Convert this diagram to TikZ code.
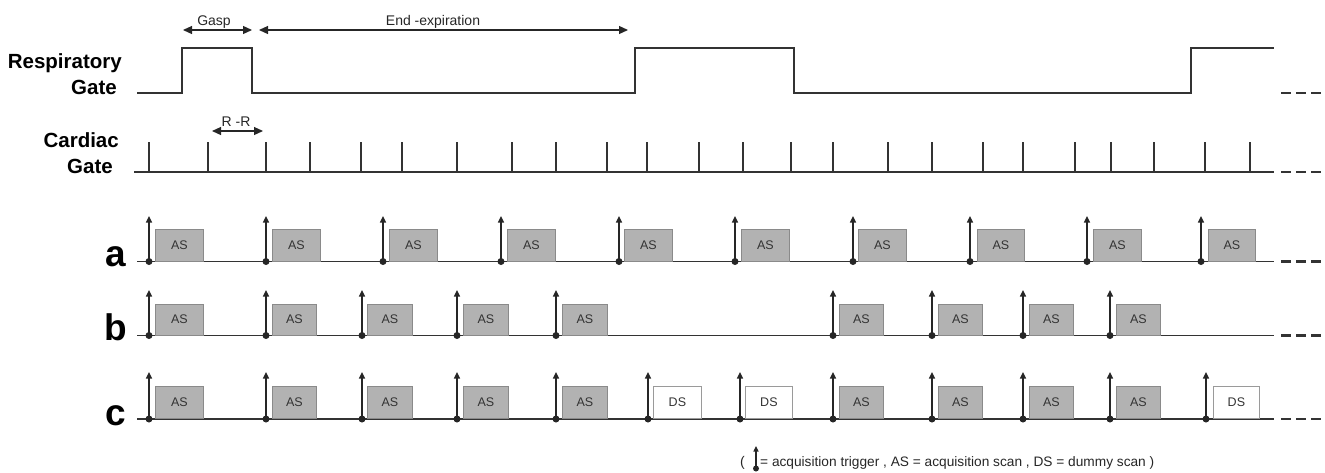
\documentclass[tikz,border=0pt]{standalone}
\usepackage{fontspec}
\setmainfont{Liberation Sans}
\usetikzlibrary{arrows.meta}
\definecolor{linec}{HTML}{333333}
\definecolor{boxfill}{HTML}{B2B2B2}
\definecolor{boxedge}{HTML}{8A8A8A}
\definecolor{dsedge}{HTML}{9A9A9A}
\begin{document}
\begin{tikzpicture}[x=1pt,y=-1pt,
  sigline/.style={draw=linec,line width=1.7pt},
  baseln/.style={draw=linec,line width=1.5pt},
  tickln/.style={draw=linec,line width=1.7pt},
  contdash/.style={draw=linec,line width=2.2pt,dash pattern=on 10pt off 5pt},
  trig/.style={draw=black!85,line width=1.4pt,-{Triangle[length=6.5pt,width=6pt]}},
  trigdot/.style={circle,fill=black!85,inner sep=0pt,minimum size=7pt},
  asbox/.style={draw=boxedge,fill=boxfill,line width=0.8pt,inner sep=0pt,font=\fontsize{12.5}{14}\selectfont,text=black!80},
  dsbox/.style={draw=dsedge,fill=white,line width=0.8pt,inner sep=0pt,font=\fontsize{12.5}{14}\selectfont,text=black!80},
  lbl/.style={font=\bfseries\fontsize{20.5}{24}\selectfont,inner sep=0pt,anchor=base east},
  rowlbl/.style={font=\bfseries\fontsize{37}{40}\selectfont,inner sep=0pt,anchor=base east},
  smalltxt/.style={font=\fontsize{14}{16}\selectfont,inner sep=0pt,text=black!85},
  dimarrow/.style={draw=black!85,line width=1.2pt,{Triangle[length=9pt,width=8pt]}-{Triangle[length=9pt,width=8pt]}}
]
\useasboundingbox (0,0) rectangle (1325,472);

% ---- labels ----
\node[lbl] (resp1) at (122,68) {Respiratory};
\node[lbl] (resp2) at (117,94) {Gate};
\node[lbl] (card1) at (119,147) {Cardiac};
\node[lbl] (card2) at (113,173) {Gate};
\node[rowlbl] (la) at (126,266) {a};
\node[rowlbl] (lb) at (127,340) {b};
\node[rowlbl] (lc) at (126,425) {c};

% ---- respiratory gate ----
\draw[sigline] (137,93) -- (182,93) -- (182,48) -- (252,48) -- (252,93) -- (635,93) -- (635,48) -- (794,48) -- (794,93) -- (1191,93) -- (1191,48) -- (1274,48);
\draw[contdash] (1281,93) -- (1321,93);

% Gasp / End-expiration
\coordinate (g1) at (183,30);
\coordinate (g2) at (252,30);
\draw[dimarrow] (g1) -- (g2);
\node[smalltxt,anchor=base] (gasp) at (214,25) {Gasp};
\coordinate (e1) at (259,30);
\coordinate (e2) at (628,30);
\draw[dimarrow] (e1) -- (e2);
\node[smalltxt,anchor=base] (endexp) at (433,25) {End -expiration};

% ---- cardiac gate ----
\draw[baseln,line width=1.7pt] (134,172) -- (1274,172);
\foreach \t in {149,208,266,310,361,402,457,512,556,607,647,699,743,791,833,888,932,983,1023,1075,1111,1154,1205,1250}{
  \draw[tickln] (\t,172) -- (\t,142);
}
\draw[contdash] (1281,172) -- (1321,172);
\coordinate (r1) at (212,131);
\coordinate (r2) at (263,131);
\draw[dimarrow] (r1) -- (r2);
\node[smalltxt,anchor=base] (rr) at (236,126) {R -R};

% ---- row a ----
\draw[baseln] (137,261.5) -- (1274,261.5);
\draw[contdash] (1281,261.5) -- (1321,261.5);
\foreach \t/\l/\r [count=\i] in {149/155/203,266/272/320,383/389/437,501/507/555,619/624/672,735/741/789,853/858/906,970/977/1024,1087/1093/1141,1201/1208/1255}{
  \node[asbox,minimum width={\r-\l},minimum height=32,anchor=south west] (a\i) at (\l,261.5) {AS};
  \node[trigdot] (ad\i) at (\t,261.5) {};
  \coordinate (at\i) at (\t,216);
  \draw[trig] (ad\i.center) -- (at\i);
}

% ---- row b ----
\draw[baseln] (137,335.5) -- (1274,335.5);
\draw[contdash] (1281,335.5) -- (1321,335.5);
\foreach \t/\l/\r [count=\i] in {149/155/203,266/272/316,362/367/412,457/463/508,556/562/607,833/839/883,932/938/982,1023/1029/1073,1110/1116/1160}{
  \node[asbox,minimum width={\r-\l},minimum height=31,anchor=south west] (b\i) at (\l,335.5) {AS};
  \node[trigdot] (bd\i) at (\t,335.5) {};
  \coordinate (bt\i) at (\t,290);
  \draw[trig] (bd\i.center) -- (bt\i);
}

% ---- row c ----
\draw[baseln] (137,419) -- (1274,419);
\draw[contdash] (1281,419) -- (1321,419);
\foreach \t/\l/\r/\s/\k [count=\i] in {149/155/203/asbox/AS,266/272/316/asbox/AS,362/367/412/asbox/AS,457/463/508/asbox/AS,556/562/607/asbox/AS,648/653/701/dsbox/DS,740/745/792/dsbox/DS,833/839/883/asbox/AS,932/938/982/asbox/AS,1023/1029/1073/asbox/AS,1110/1116/1160/asbox/AS,1206/1213/1259/dsbox/DS}{
  \node[\s,minimum width={\r-\l},minimum height=32,anchor=south west] (c\i) at (\l,419) {\k};
  \node[trigdot] (cd\i) at (\t,419) {};
  \coordinate (ct\i) at (\t,372);
  \draw[trig] (cd\i.center) -- (ct\i);
}

% ---- legend ----
\node[smalltxt,anchor=base west] (lparen) at (740,466) {(};
\node[trigdot,minimum size=6pt] (legdot) at (756,468.5) {};
\coordinate (legtip) at (756,446);
\draw[trig,line width=1.2pt,-{Triangle[length=5.5pt,width=5pt]}] (legdot.center) -- (legtip);
\node[smalltxt,anchor=base west,font=\fontsize{13.7}{16}\selectfont] (legtxt) at (760,466) {= acquisition trigger , AS = acquisition scan , DS = dummy scan )};
\end{tikzpicture}
\end{document}
